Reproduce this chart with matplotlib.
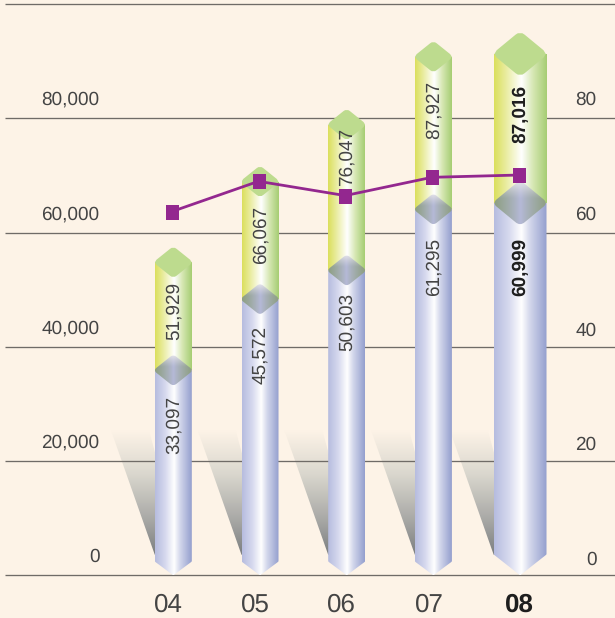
import numpy as np
import matplotlib
matplotlib.use("Agg")
import matplotlib.pyplot as plt
from matplotlib.path import Path

plt.rcParams['font.family'] = ['Liberation Sans', 'DejaVu Sans']
plt.rcParams['text.hinting'] = 'no_hinting'
plt.rcParams['text.hinting_factor'] = 1

# Chart data
years = ['04', '05', '06', '07', '08']
lower_values = [33097, 45572, 50603, 61295, 60999]
upper_values = [51929, 66067, 76047, 87927, 87016]
ratio_percent = [63.7, 69.0, 66.5, 69.7, 70.1]
left_ticks = [0, 20000, 40000, 60000, 80000]
right_ticks = [0, 20, 40, 60, 80]
grid_values = [0, 20000, 40000, 60000, 80000, 100000]

# Pixel layout of the canvas
W, H = 615, 618
Y_ZERO = 575.3
PX_PER_UNIT = 0.00571
FIRST_BAR = 173.3
BAR_STEP = 86.7

BG = '#FDF3E7'
GRID = '#6F6B67'
TEXT = '#444444'
PURPLE = '#93278F'

fig = plt.figure(figsize=(W / 100, H / 100), dpi=100, facecolor=BG)
ax = fig.add_axes([0, 0, 1, 1])
ax.set_xlim(-FIRST_BAR / BAR_STEP, (W - FIRST_BAR) / BAR_STEP)
ax.set_ylim((Y_ZERO - H) / PX_PER_UNIT, Y_ZERO / PX_PER_UNIT)
ax.axis('off')
ax.set_autoscale_on(False)


def px_w(p):
    return p / BAR_STEP


def px_h(p):
    return p / PX_PER_UNIT


def hex_rgb(c):
    return np.array([int(c[i:i + 2], 16) / 255 for i in (1, 3, 5)])


def ramp(stops, n=128):
    pos = [s[0] for s in stops]
    cols = np.array([hex_rgb(s[1]) for s in stops])
    t = np.linspace(0, 1, n)
    return np.stack([np.interp(t, pos, cols[:, k]) for k in range(3)], axis=-1)


def rounded(points, frac=0.16):
    # Closed polygon with its corners replaced by quadratic curves
    pts = np.array(points, float)
    n = len(pts)
    verts, codes = [], []
    for i in range(n):
        prev_p, cur, next_p = pts[i - 1], pts[i], pts[(i + 1) % n]
        a = cur + (prev_p - cur) * frac
        b = cur + (next_p - cur) * frac
        verts += [a, cur, b]
        codes += [Path.LINETO if i else Path.MOVETO, Path.CURVE3, Path.CURVE3]
    verts.append(verts[0])
    codes.append(Path.CLOSEPOLY)
    return Path(verts, codes)


def paint(img, extent, clip, zorder):
    im = ax.imshow(img, extent=extent, origin='upper', aspect='auto',
                   interpolation='bilinear', zorder=zorder)
    im.set_clip_path(clip, ax.transData)
    return im


BLUE_STOPS = [(0, '#B6BCDF'), (0.28, '#D6D9EE'), (0.52, '#FFFFFF'),
              (0.68, '#D3D7EB'), (1, '#949FCE')]
GREEN_STOPS = [(0, '#DBDF5C'), (0.22, '#E9EC9E'), (0.52, '#FFFFFF'),
               (0.74, '#D6E7B3'), (1, '#A6CD73')]
SHADOW_STOPS = [(0, BG), (0.35, '#DAD7CE'), (0.7, '#ABABA8'), (1, '#7C7F81')]
blue_img = ramp(BLUE_STOPS)[np.newaxis, :, :]
green_img = ramp(GREEN_STOPS)[np.newaxis, :, :]
shadow_img = ramp(SHADOW_STOPS)[:, np.newaxis, :]


def joint_image(n=48):
    # Overlap diamond: grey-green at the sides, blue in the middle, pale at the top
    u = np.abs(np.linspace(-1, 1, n))[np.newaxis, :, np.newaxis]
    v = np.linspace(0, 1, n)[:, np.newaxis, np.newaxis]
    side, middle, pale = hex_rgb('#8E9F82'), hex_rgb('#B6BAD9'), hex_rgb('#ECEAEC')
    base = middle + (side - middle) * u ** 0.85
    lift = np.clip(1 - v / 0.42, 0, 1) ** 1.3
    return base + (pale - base) * lift


joint_img = joint_image()

# Gridlines
for g in grid_values:
    ax.plot([-FIRST_BAR / BAR_STEP + px_w(5), (W - FIRST_BAR) / BAR_STEP], [g, g],
            color=GRID, lw=0.95, zorder=2, solid_capstyle='butt')

x_pos = np.arange(len(years))
label_shift_low = [38.5, 39.5, 36, 41.5, 39.5]
label_shift_high = [32, 37, 16, 36.5, 36]
year_shift = [-4.5, -4.5, -5, -4, -1]

for i, (x, low, high) in enumerate(zip(x_pos, lower_values, upper_values)):
    latest = i == len(years) - 1
    half = px_w(26.4 if latest else 18.5)
    shoulder = px_h(20 if latest else 13)
    lift = px_h(24 if latest else 16)
    dh = px_h(21.5 if latest else 15) * 1.07
    low_y, high_y = low + lift, high + lift + px_h(0.5)

    # Slanted shadow running into the foot of the column
    y_top, y_bot = px_h(145.5), px_h(20.5)
    slant = px_w(44)
    x_left = x - half
    inner = x_left + px_w(6)
    shadow = Path([(x_left - slant, y_top), (x_left - slant + px_w(38), y_top),
                   (inner, y_top - (y_top - y_bot) * 0.35), (inner, y_bot + px_h(1)),
                   (x_left, y_bot), (x_left - slant, y_top)])
    paint(shadow_img, (x_left - slant, inner, y_bot, y_top), shadow, 1)

    # Upper body
    upper = Path([(x - half, low_y), (x - half, high_y), (x + half, high_y),
                  (x + half, low_y), (x - half, low_y)])
    paint(green_img, (x - half, x + half, low_y, high_y), upper, 3)

    # Lower body with its pointed foot
    lower = Path([(x - half, shoulder + px_h(1)), (x - half + px_w(1), shoulder), (x, 0),
                  (x + half - px_w(1), shoulder), (x + half, shoulder + px_h(1)),
                  (x + half, low_y), (x - half, low_y), (x - half, shoulder + px_h(1))])
    paint(blue_img, (x - half, x + half, 0, low_y), lower, 3.1)

    # Joint between the two bodies
    wide = half + px_w(1.5)
    joint = rounded([(x - wide, low_y), (x, low_y + dh), (x + wide, low_y), (x, low_y - dh)])
    paint(joint_img, (x - half, x + half, low_y - dh, low_y + dh), joint, 3.2)

    # Cap of the column
    cap = rounded([(x - wide, high_y), (x, high_y + dh), (x + wide, high_y), (x, high_y - dh)])
    cap_outline = cap.to_polygons(closed_only=False)[0]
    cap_clip = Path([(x - half, high_y - 2 * dh), (x + half, high_y - 2 * dh),
                     (x + half, high_y + 2 * dh), (x - half, high_y + 2 * dh),
                     (x - half, high_y - 2 * dh)])
    for patch in ax.fill(cap_outline[:, 0], cap_outline[:, 1], color='#BDDB8E', lw=0, zorder=3.3):
        patch.set_clip_path(cap_clip, ax.transData)

    weight = 'bold' if latest else 'normal'
    colour = '#1E1E1E' if latest else TEXT
    for val, shift in ((low, label_shift_low[i]), (high, label_shift_high[i])):
        ax.annotate(f'{val:,}', (x, val), xytext=(0.3, -shift * 0.72),
                    textcoords='offset points', rotation=90, ha='center', va='center',
                    fontsize=13.4, color=colour, fontweight=weight, zorder=6)

    ax.annotate(years[i], (x, 0), xytext=(year_shift[i] * 0.72, -36 * 0.72),
                textcoords='offset points', ha='center', va='baseline',
                fontsize=18.8, color='#1E1E1E' if latest else TEXT,
                fontweight=weight, zorder=6)

# Ratio line on a percentage scale that shares the gridlines
ratio_axis = ax.twinx()
ratio_axis.set_ylim(ax.get_ylim()[0] / 1000, ax.get_ylim()[1] / 1000)
ratio_axis.axis('off')
ratio_axis.patch.set_visible(False)
ratio_axis.set_zorder(5)
ax.set_zorder(4)
box = [(-13 / 15, -1), (13 / 15, -1), (13 / 15, 1), (-13 / 15, 1), (-13 / 15, -1)]
ratio_axis.plot(x_pos - px_w(1.5), ratio_percent, color=PURPLE, lw=2.0, marker=box,
                markersize=10.8, markeredgewidth=0, markerfacecolor=PURPLE)

# Scale labels on both sides
left_x = ax.get_xlim()[0] + px_w(99.5)
right_x = ax.get_xlim()[0] + px_w(596.5)
left_rise = [18.5, 18.5, 18.5, 18.5, 18.5]
right_rise = [15.5, 16.5, 16.5, 17.5, 18.5]
for t, r in zip(left_ticks, left_rise):
    ax.annotate(f'{t:,}', (left_x, t), xytext=(0, r * 0.72), textcoords='offset points',
                ha='right', va='center', fontsize=13.6, color=TEXT, zorder=6)
for t, r in zip(right_ticks, right_rise):
    ax.annotate(f'{t}', (right_x, t * 1000), xytext=(0, r * 0.72), textcoords='offset points',
                ha='right', va='center', fontsize=13.6, color=TEXT, zorder=6)

fig.savefig('out.png', dpi=100, facecolor=BG)
